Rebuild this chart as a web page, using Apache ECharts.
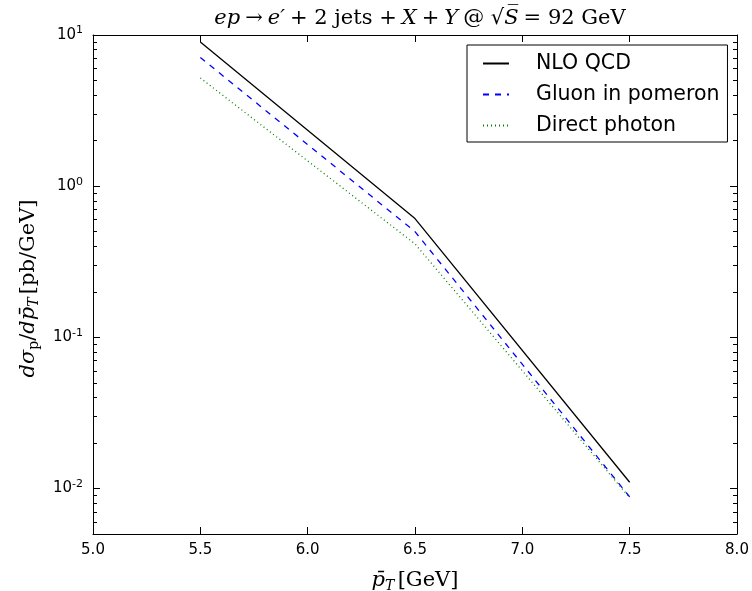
<!DOCTYPE html>
<html>
<head>
<meta charset="utf-8">
<script src="https://cdn.jsdelivr.net/npm/echarts@6/dist/echarts.min.js"></script>
<style>
html,body{margin:0;padding:0;background:#fff;}
#chart{width:752px;height:591px;}
</style>
</head>
<body>
<div id="chart"></div>
<script>
// ---- data ----
const pT = [5.5, 6.5, 7.5];
const nloQCD = [9.0, 0.61, 0.0110];
const gluonInPomeron = [7.1, 0.50, 0.0088];
const directPhoton = [5.2, 0.415, 0.0087];
const seriesNames = ['NLO QCD', 'Gluon in pomeron', 'Direct photon'];
const yMajorTicks = [0.01, 0.1, 1, 10];
const yMinorTicks = [0.006, 0.007, 0.008, 0.009,
  0.02, 0.03, 0.04, 0.05, 0.06, 0.07, 0.08, 0.09,
  0.2, 0.3, 0.4, 0.5, 0.6, 0.7, 0.8, 0.9,
  2, 3, 4, 5, 6, 7, 8, 9];

const pairs = arr => pT.map((x, i) => [x, arr[i]]);

const SANS = 'DejaVu Sans';
const SERIF = 'DejaVu Serif';
const mathRich = {
  i: {fontFamily: SERIF, fontStyle: 'italic', fontWeight: 'normal', fontSize: 21, color: '#000'},
  n: {fontFamily: SERIF, fontWeight: 'normal', fontSize: 21, color: '#000'},
  sub: {fontFamily: SERIF, fontWeight: 'normal', fontSize: 14, color: '#000', padding: [10, 0, 0, 0]},
  subi: {fontFamily: SERIF, fontStyle: 'italic', fontWeight: 'normal', fontSize: 14, color: '#000', padding: [10, 0, 0, 0]}
};

const GRID = {left: 93, right: 15, top: 35, bottom: 57};
const PLOT_W = 752 - GRID.left - GRID.right;
const PLOT_H = 591 - GRID.top - GRID.bottom;
const tickStyle = {color: '#000', width: 1};
const lineBlack = {show: true, onZero: false, lineStyle: {color: '#000', width: 1}};

const yBase = {type: 'log', min: 0.005, max: 10, logBase: 10, splitLine: {show: false}};
const yTickAxis = (pos, len, vals) => Object.assign({}, yBase, {
  position: pos, offset: -PLOT_W,
  axisLine: {show: false},
  axisTick: {show: true, inside: false, length: len, customValues: vals, lineStyle: tickStyle},
  axisLabel: {show: false}
});
const yAxes = [
  Object.assign({}, yBase, {
    position: 'left',
    axisLine: lineBlack,
    axisTick: {show: false},
    axisLabel: {
      show: true, customValues: yMajorTicks, margin: 10,
      formatter: v => '{b|10}{s|' + Math.round(Math.log10(v)) + '}',
      rich: {
        b: {fontFamily: SANS, fontSize: 15, color: '#000'},
        s: {fontFamily: SANS, fontSize: 11, color: '#000', padding: [0, 0, 9, 0]}
      }
    },
    name: '{i|dσ}{sub|p}{n|/}{i|dp̄}{subi|T} {n|[pb/GeV]}',
    nameLocation: 'middle', nameGap: 52, nameRotate: 90,
    nameTextStyle: {rich: mathRich, padding: [0, 8, 0, 0]}
  }),
  Object.assign({}, yBase, {position: 'right', axisLine: lineBlack, axisTick: {show: false}, axisLabel: {show: false}}),
  yTickAxis('right', 7, yMajorTicks),   // inward ticks on left edge
  yTickAxis('right', 4, yMinorTicks),
  yTickAxis('left', 7, yMajorTicks),    // inward ticks on right edge
  yTickAxis('left', 4, yMinorTicks)
];

const xBase = {type: 'value', min: 5.0, max: 8.0, interval: 0.5, splitLine: {show: false}};
const xTickAxis = pos => Object.assign({}, xBase, {
  position: pos, offset: -PLOT_H,
  axisLine: {show: false},
  axisTick: {show: true, inside: false, length: 7, lineStyle: tickStyle},
  axisLabel: {show: false}
});
const xAxes = [
  Object.assign({}, xBase, {
    position: 'bottom',
    axisLine: lineBlack,
    axisTick: {show: false},
    axisLabel: {show: true, margin: 9, fontFamily: SANS, fontSize: 15, color: '#000',
      formatter: v => v.toFixed(1)},
    name: '{i|p̄}{subi|T} {n|[GeV]}',
    nameLocation: 'middle', nameGap: 35,
    nameTextStyle: {rich: mathRich}
  }),
  Object.assign({}, xBase, {position: 'top', axisLine: lineBlack, axisTick: {show: false}, axisLabel: {show: false}}),
  xTickAxis('top'),     // inward ticks on bottom edge
  xTickAxis('bottom')   // inward ticks on top edge
];

const lineSeries = (name, data, color, type) => ({
  name: name, type: 'line', data: pairs(data),
  xAxisIndex: 0, yAxisIndex: 0,
  symbol: 'none', showSymbol: false, smooth: false, animation: false,
  lineStyle: {color: color, width: 1.3, type: type},
  itemStyle: {color: color}
});

const option = {
  animation: false,
  backgroundColor: '#fff',
  title: {
    text: '{i|ep} {n|→} {i|e′} {n|+ 2 jets +} {i|X} {n|+} {i|Y} {n|@ √}{i|S̅} {n|= 92 GeV}',
    left: 415, top: 3, textAlign: 'center',
    textStyle: {rich: mathRich, fontWeight: 'normal'}
  },
  grid: Object.assign({containLabel: false, outerBoundsMode: 'none'}, GRID),
  xAxis: xAxes,
  yAxis: yAxes,
  legend: {
    orient: 'vertical', left: 467, top: 45,
    padding: [8, 8, 6, 15],
    itemGap: 10, itemWidth: 26, itemHeight: 14,
    borderColor: '#000', borderWidth: 1, backgroundColor: '#fff', borderRadius: 0,
    textStyle: {fontFamily: SANS, fontSize: 20.5, color: '#000', padding: [0, 0, 0, 22]},
    itemStyle: {opacity: 0},
    data: seriesNames
  },
  series: [
    lineSeries(seriesNames[0], nloQCD, '#000000', 'solid'),
    lineSeries(seriesNames[1], gluonInPomeron, '#0000ff', [6, 6]),
    lineSeries(seriesNames[2], directPhoton, '#008000', [1, 3])
  ]
};

const chart = echarts.init(document.getElementById('chart'), null, {renderer: 'canvas'});
chart.setOption(option);
</script>
</body>
</html>
